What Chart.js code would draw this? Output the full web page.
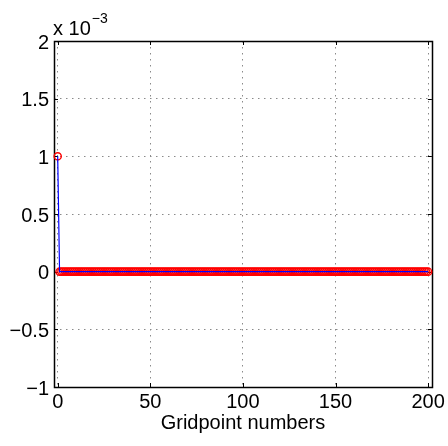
<!DOCTYPE html>
<html>
<head>
<meta charset="utf-8">
<script src="https://cdn.jsdelivr.net/npm/chart.js@4"></script>
<style>
  html, body { margin: 0; padding: 0; background: #fff; }
  #wrap { width: 448px; height: 446px; }
</style>
</head>
<body>
<div id="wrap"><canvas id="gridChart"></canvas></div>
<script>
// gridpoint index and value at each point (values in absolute units, axis shows x 10^-3)
const gridpoints = [
  0, 1, 2, 3, 4, 5, 6, 7, 8, 9, 10, 11, 12, 13, 14, 15, 16, 17, 18, 19,
  20, 21, 22, 23, 24, 25, 26, 27, 28, 29, 30, 31, 32, 33, 34, 35, 36, 37, 38, 39,
  40, 41, 42, 43, 44, 45, 46, 47, 48, 49, 50, 51, 52, 53, 54, 55, 56, 57, 58, 59,
  60, 61, 62, 63, 64, 65, 66, 67, 68, 69, 70, 71, 72, 73, 74, 75, 76, 77, 78, 79,
  80, 81, 82, 83, 84, 85, 86, 87, 88, 89, 90, 91, 92, 93, 94, 95, 96, 97, 98, 99,
  100, 101, 102, 103, 104, 105, 106, 107, 108, 109, 110, 111, 112, 113, 114, 115, 116, 117, 118, 119,
  120, 121, 122, 123, 124, 125, 126, 127, 128, 129, 130, 131, 132, 133, 134, 135, 136, 137, 138, 139,
  140, 141, 142, 143, 144, 145, 146, 147, 148, 149, 150, 151, 152, 153, 154, 155, 156, 157, 158, 159,
  160, 161, 162, 163, 164, 165, 166, 167, 168, 169, 170, 171, 172, 173, 174, 175, 176, 177, 178, 179,
  180, 181, 182, 183, 184, 185, 186, 187, 188, 189, 190, 191, 192, 193, 194, 195, 196, 197, 198, 199,
  200
];
const values = [
  0.001, 0, 0, 0, 0, 0, 0, 0, 0, 0, 0, 0, 0, 0, 0, 0, 0, 0, 0, 0,
  0, 0, 0, 0, 0, 0, 0, 0, 0, 0, 0, 0, 0, 0, 0, 0, 0, 0, 0, 0,
  0, 0, 0, 0, 0, 0, 0, 0, 0, 0, 0, 0, 0, 0, 0, 0, 0, 0, 0, 0,
  0, 0, 0, 0, 0, 0, 0, 0, 0, 0, 0, 0, 0, 0, 0, 0, 0, 0, 0, 0,
  0, 0, 0, 0, 0, 0, 0, 0, 0, 0, 0, 0, 0, 0, 0, 0, 0, 0, 0, 0,
  0, 0, 0, 0, 0, 0, 0, 0, 0, 0, 0, 0, 0, 0, 0, 0, 0, 0, 0, 0,
  0, 0, 0, 0, 0, 0, 0, 0, 0, 0, 0, 0, 0, 0, 0, 0, 0, 0, 0, 0,
  0, 0, 0, 0, 0, 0, 0, 0, 0, 0, 0, 0, 0, 0, 0, 0, 0, 0, 0, 0,
  0, 0, 0, 0, 0, 0, 0, 0, 0, 0, 0, 0, 0, 0, 0, 0, 0, 0, 0, 0,
  0, 0, 0, 0, 0, 0, 0, 0, 0, 0, 0, 0, 0, 0, 0, 0, 0, 0, 0, 0,
  0
];

const xTicks = [0, 50, 100, 150, 200];
const yTicks = [-0.001, -0.0005, 0, 0.0005, 0.001, 0.0015, 0.002];
const yTickLabels = ['\u22121', '\u22120.5', '0', '0.5', '1', '1.5', '2'];

const points = gridpoints.map((g, i) => ({ x: g, y: values[i] }));
const FONT = '"Liberation Sans", Arial, Helvetica, sans-serif';

// full box, inward tick marks and the exponent label
const axesBox = {
  id: 'axesBox',
  beforeDatasetsDraw(chart) {
    const { ctx, chartArea: a, scales: { x, y } } = chart;
    ctx.save();
    ctx.strokeStyle = '#000';
    ctx.lineWidth = 1;
    ctx.beginPath();
    xTicks.forEach(v => {
      const px = Math.round(x.getPixelForValue(v)) + 0.5;
      ctx.moveTo(px, a.bottom); ctx.lineTo(px, a.bottom - 4);
      ctx.moveTo(px, a.top); ctx.lineTo(px, a.top + 4);
    });
    yTicks.forEach(v => {
      const py = Math.round(y.getPixelForValue(v)) + 0.5;
      ctx.moveTo(a.left, py); ctx.lineTo(a.left + 4, py);
      ctx.moveTo(a.right, py); ctx.lineTo(a.right - 4, py);
    });
    ctx.stroke();
    ctx.lineWidth = 1.5;
    ctx.strokeRect(Math.round(a.left) + 0.5, Math.round(a.top) + 0.5,
      Math.round(a.right - a.left), Math.round(a.bottom - a.top));
    ctx.restore();
  },
  afterDraw(chart) {
    const { ctx, chartArea: a } = chart;
    ctx.save();
    ctx.fillStyle = '#000';
    ctx.textBaseline = 'alphabetic';
    ctx.font = '20px ' + FONT;
    ctx.fillText('x 10', a.left - 1, 35);
    const w = ctx.measureText('x 10').width;
    ctx.font = '14px ' + FONT;
    ctx.fillText('\u22123', a.left - 1 + w + 1, 23);
    ctx.restore();
  }
};

new Chart(document.getElementById('gridChart'), {
  type: 'line',
  data: {
    datasets: [
      {
        data: points,
        borderColor: '#0000ff',
        borderWidth: 1.2,
        pointRadius: 0,
        fill: false,
        tension: 0
      },
      {
        data: points,
        showLine: false,
        borderColor: '#ff0000',
        backgroundColor: 'rgba(0,0,0,0)',
        pointBorderColor: '#ff0000',
        pointBackgroundColor: 'rgba(0,0,0,0)',
        pointBorderWidth: 1.4,
        pointRadius: 3.6,
        clip: false
      }
    ]
  },
  options: {
    responsive: true,
    maintainAspectRatio: false,
    animation: false,
    events: [],
    layout: { padding: { top: 41, right: 16, left: 0, bottom: 0 } },
    plugins: { legend: { display: false }, tooltip: { enabled: false } },
    scales: {
      x: {
        type: 'linear',
        min: -2,
        max: 202,
        afterBuildTicks: s => { s.ticks = xTicks.map(v => ({ value: v })); },
        afterFit: s => { s.height = 59; },
        grid: { color: '#8a8a8a', lineWidth: 1, drawTicks: false },
        border: { display: false, dash: [1.5, 4.5] },
        ticks: {
          color: '#000',
          font: { family: FONT, size: 20 },
          padding: 3,
          maxRotation: 0,
          autoSkip: false
        },
        title: {
          display: true,
          text: 'Gridpoint numbers',
          color: '#000',
          font: { family: FONT, size: 20 },
          padding: { top: 0, bottom: 11 }
        }
      },
      y: {
        type: 'linear',
        min: -0.001,
        max: 0.002,
        afterBuildTicks: s => { s.ticks = yTicks.map(v => ({ value: v })); },
        afterFit: s => { s.width = 54; },
        grid: { color: '#8a8a8a', lineWidth: 1, drawTicks: false },
        border: { display: false, dash: [1.5, 4.5] },
        ticks: {
          color: '#000',
          font: { family: FONT, size: 20 },
          padding: 5,
          labelOffset: 2,
          autoSkip: false,
          callback: (v, i) => yTickLabels[i]
        }
      }
    }
  },
  plugins: [axesBox]
});
</script>
</body>
</html>
